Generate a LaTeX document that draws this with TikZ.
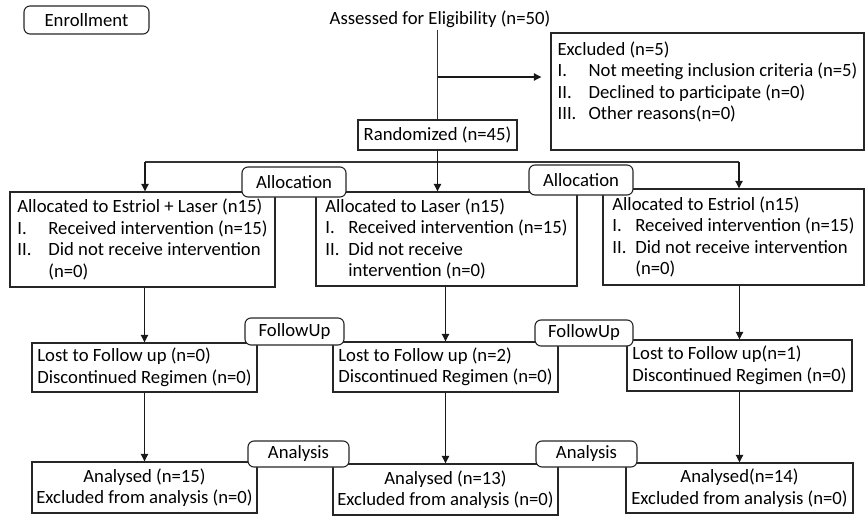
\documentclass[tikz,border=0pt]{standalone}
\usepackage{fontspec}
\setmainfont{Carlito}
\usetikzlibrary{arrows.meta}
\newcommand\myfs{\fontsize{18.7}{21.5}\selectfont}
\newcommand\numA[1]{\makebox[31pt][l]{#1}}
\newcommand\numB[1]{\makebox[23pt][l]{#1}}
\tikzset{
  wh/.style 2 args={minimum width=#1pt, minimum height=#2pt},
  box/.style={draw=black!85, line width=1.1pt, inner sep=0pt, align=left, font=\myfs},
  cbox/.style={box, align=center},
  lab/.style={draw=black!85, line width=1.1pt, fill=white, rounded corners=6pt, inner sep=0pt, font=\myfs},
  arr/.style={line width=1.9pt, draw=black!90, -{Triangle[length=7.5pt,width=7pt]}},
  ln/.style={line width=1.2pt, draw=black!80},
}
\begin{document}
\begin{tikzpicture}[x=1pt,y=-1pt]
\useasboundingbox (0,0) rectangle (865,516);
% enrollment
\node[lab, wh={125}{28}] (enr) at (86.5,20) {Enrollment};
\node[font=\myfs, inner sep=2pt] (assess) at (440,19) {Assessed for Eligibility (n=50)};
\node[box, wh={159}{30}, align=center] (rand) at (437.5,135) {Randomized (n=45)};
\node[box, wh={313}{117}] (excl) at (707.5,91.5) {Excluded (n=5)\\
\numA{I.}Not meeting inclusion criteria (n=5)\\
\numA{II.}Declined to participate (n=0)\\
\numA{III.}Other reasons(n=0)\\ \mbox{}};
\coordinate (j1) at (437.5,77);
\draw[ln] (rand.north |- assess.south) -- (rand.north);
\draw[arr, shorten >=9pt] (j1) -- (excl.west |- j1);
% allocation
\coordinate (bl) at (145,162);
\coordinate (br) at (739,162);
\node[box, wh={265}{95}] (allocL) at (142.5,239.5) {Allocated to Estriol + Laser (n15)\\
\numA{I.}Received intervention (n=15)\\
\numA{II.}Did not receive intervention\\
\numA{}(n=0)};
\node[box, wh={261}{94}] (allocM) at (446.5,239) {Allocated to Laser (n15)\\
\numB{I.}Received intervention (n=15)\\
\numB{II.}Did not receive\\
\numB{}intervention (n=0)};
\node[box, wh={261}{96}] (allocR) at (733.5,237) {Allocated to Estriol (n15)\\
\numB{I.}Received intervention (n=15)\\
\numB{II.}Did not receive intervention\\
\numB{}(n=0)};
\draw[ln] (bl) -- (br);
\draw[arr] (bl) -- (bl |- allocL.north);
\draw[arr] (rand.south) -- (rand.south |- allocM.north);
\draw[arr] (br) -- (br |- allocR.north);
\node[lab, wh={104}{30}] (labL) at (294,182) {Allocation};
\node[lab, wh={104}{30}] (labR) at (581,180) {Allocation};
% follow up
\node[box, wh={225}{49}] (followL) at (144.5,367.5) {Lost to Follow up (n=0)\\ Discontinued Regimen (n=0)};
\node[box, wh={225}{50}] (followM) at (445.5,367) {Lost to Follow up (n=2)\\ Discontinued Regimen (n=0)};
\node[box, wh={225}{51}] (followR) at (739.5,365.5) {Lost to Follow up(n=1)\\ Discontinued Regimen (n=0)};
\draw[arr] (followL.north |- allocL.south) -- (followL.north);
\draw[arr] (followM.north |- allocM.south) -- (followM.north);
\draw[arr] (followR.north |- allocR.south) -- (followR.north);
\node[lab, wh={99}{27}] (fuL) at (294.5,331.5) {FollowUp};
\node[lab, wh={98}{26}] (fuR) at (584,333) {FollowUp};
% analysis
\node[cbox, wh={225}{51}] (anaL) at (144.5,487.5) {Analysed (n=15)\\ Excluded from analysis (n=0)};
\node[cbox, wh={225}{51}] (anaM) at (445.5,489.5) {Analysed (n=13)\\ Excluded from analysis (n=0)};
\node[cbox, wh={227}{50}] (anaR) at (739.5,488) {Analysed(n=14)\\ Excluded from analysis (n=0)};
\draw[arr] (followL.south) -- (anaL.north);
\draw[arr] (followM.south) -- (anaM.north);
\draw[arr] (followR.south) -- (anaR.north);
\node[lab, wh={101}{26}] (anL) at (298.5,454) {Analysis};
\node[lab, wh={101}{26}] (anR) at (586.5,454) {Analysis};
\end{tikzpicture}
\end{document}
